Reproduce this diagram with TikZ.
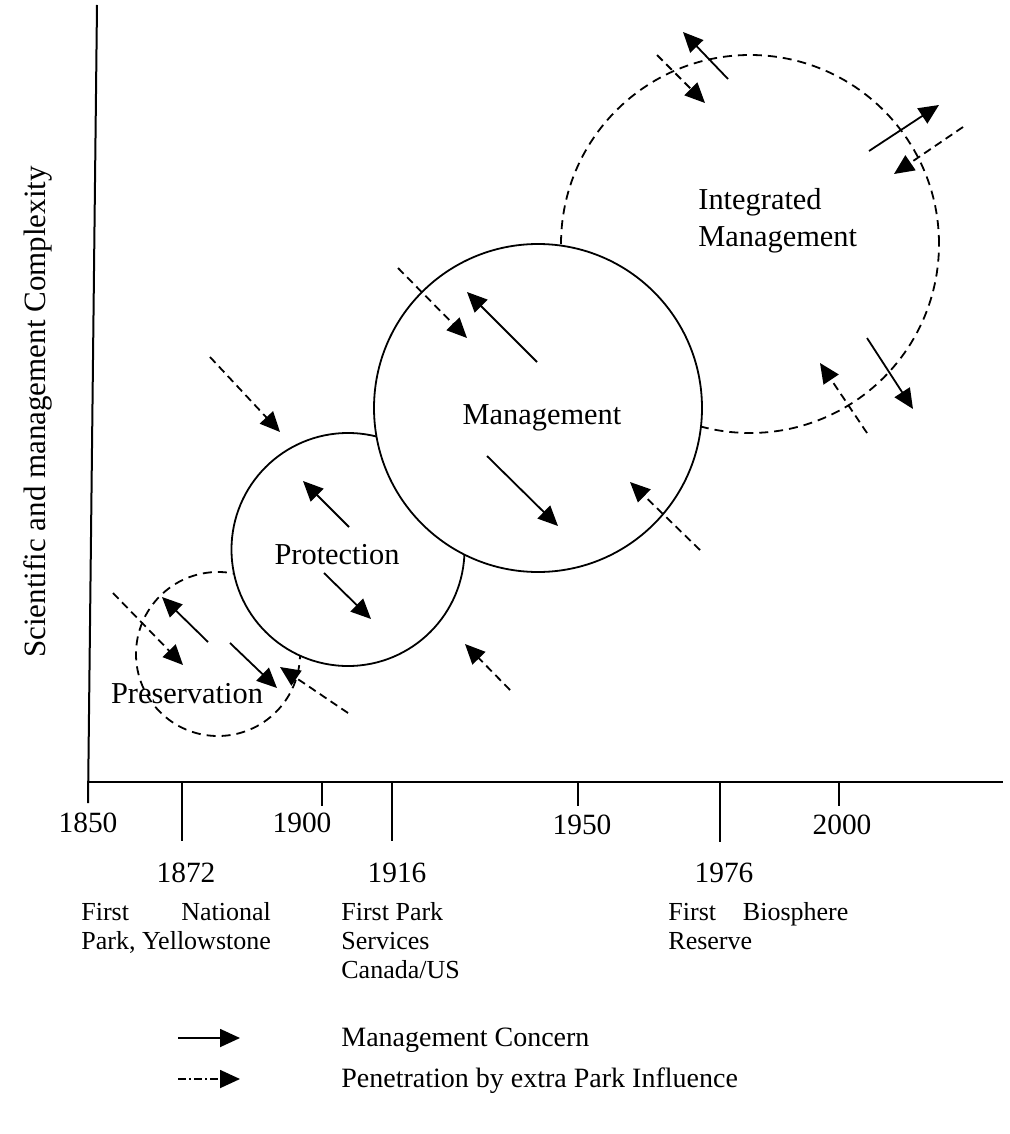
\documentclass[tikz,border=0pt]{standalone}
\usepackage{fontspec}
\setmainfont{Liberation Serif}
\usetikzlibrary{arrows.meta}
\begin{document}
\begin{tikzpicture}[x=0.5pt,y=-0.5pt,
  tip/.style={-{Triangle[length=10pt,width=9pt]}},
  mc/.style={line width=0.9pt,tip},
  pen/.style={line width=0.9pt,dash pattern=on 4pt off 2.5pt,tip},
  axisline/.style={line width=1pt},
  solidring/.style={circle,draw,line width=0.9pt,fill=white,inner sep=0pt},
  dashring/.style={circle,draw,line width=0.9pt,dash pattern=on 4.5pt off 3pt,inner sep=0pt},
  lab/.style={font=\fontsize{15.2}{18}\selectfont,inner sep=0pt},
  yearlab/.style={font=\fontsize{14.7}{17}\selectfont,inner sep=0pt,anchor=base},
  note/.style={font=\fontsize{13}{14.5}\selectfont,inner sep=0pt,anchor=base west},
  leg/.style={font=\fontsize{14}{16}\selectfont,inner sep=0pt,anchor=base west}
]
\useasboundingbox (0,0) rectangle (1010,1134);

% circles (drawing order matters)
\node[dashring,minimum size=82pt] (pres) at (218,654) {};
\node[solidring,minimum size=116.5pt] (prot) at (348,549.5) {};
\node[dashring,minimum size=189pt] (integ) at (750,244) {};
\node[solidring,minimum size=164pt] (mgmt) at (538,408) {};

% circle labels
\node[lab,anchor=base] (tpres) at (187,703) {Preservation};
\node[lab,anchor=base] (tprot) at (337,564) {Protection};
\node[lab,anchor=base] (tmgmt) at (542,424) {Management};
\node[lab,anchor=base west] (tint1) at (698,210) {Integrated};
\node[lab,anchor=base west] (tint2) at (698,247) {Management};

% axes
\coordinate (ytop) at (97,5);
\coordinate (ybot) at (88,803);
\coordinate (xl) at (88,782);
\coordinate (xr) at (1003,782);
\draw[axisline] (ytop) -- (ybot);
\draw[axisline] (xl) -- (xr);
\node[rotate=90,font=\fontsize{15.5}{18}\selectfont,inner sep=0pt] (ylab) at (38,412) {Scientific and management Complexity};

% ticks
\foreach \x/\e in {182/841,322/806,392/841,578/806,720/842,839/806}
  \draw[axisline] (\x,782) -- (\x,\e);

% year labels
\node[yearlab] (y1850) at (88,832) {1850};
\node[yearlab] (y1872) at (186,882) {1872};
\node[yearlab] (y1900) at (302,832) {1900};
\node[yearlab] (y1916) at (397,882) {1916};
\node[yearlab] (y1950) at (582,834) {1950};
\node[yearlab] (y1976) at (724,882) {1976};
\node[yearlab] (y2000) at (842,834) {2000};

% notes under the axis
\node[note] (n1872) at (81,920) {\begin{tabular}[t]{@{}l@{}}First\hfill National\\Park, Yellowstone\end{tabular}};
\node[note] (n1916) at (341,920) {\begin{tabular}[t]{@{}l@{}}First Park\\Services\\Canada/US\end{tabular}};
\node[note] (n1976) at (668,920) {\begin{tabular}[t]{@{}l@{}}\hbox to 90pt{First\hfill Biosphere}\\Reserve\end{tabular}};

% Preservation arrows
\draw[mc] (208,642) -- (162,597);
\draw[mc] (230,643) -- (277,688);
\draw[pen] (113,593) -- (183,665);
\draw[pen] (348,713) -- (280,667);

% Protection arrows
\draw[pen] (210,357) -- (280,432);
\draw[mc] (349,527) -- (303,481);
\draw[mc] (324,573) -- (371,619);
\draw[pen] (510,690) -- (465,644);

% Management arrows
\draw[pen] (398,268) -- (467,338);
\draw[mc] (537,362) -- (467,292);
\draw[mc] (487,456) -- (558,526);
\draw[pen] (700,550) -- (630,482);

% Integrated Management arrows
\draw[mc] (728,79) -- (683,32);
\draw[pen] (657,55) -- (705,103);
\draw[mc] (869,151) -- (939,105);
\draw[pen] (963,127) -- (894,174);
\draw[pen] (867,433) -- (820,363);
\draw[mc] (867,338) -- (913,409);

% legend
\coordinate (l1a) at (178,1038);
\coordinate (l1b) at (240,1038);
\coordinate (l2a) at (178,1079);
\coordinate (l2b) at (240,1079);
\draw[mc] (l1a) -- (l1b);
\draw[line width=0.9pt,dash pattern=on 4pt off 1.5pt on 1pt off 1.5pt,tip] (l2a) -- (l2b);
\node[leg] (leg1) at (341,1046) {Management Concern};
\node[leg] (leg2) at (341,1087) {Penetration by extra Park Influence};
\end{tikzpicture}
\end{document}
